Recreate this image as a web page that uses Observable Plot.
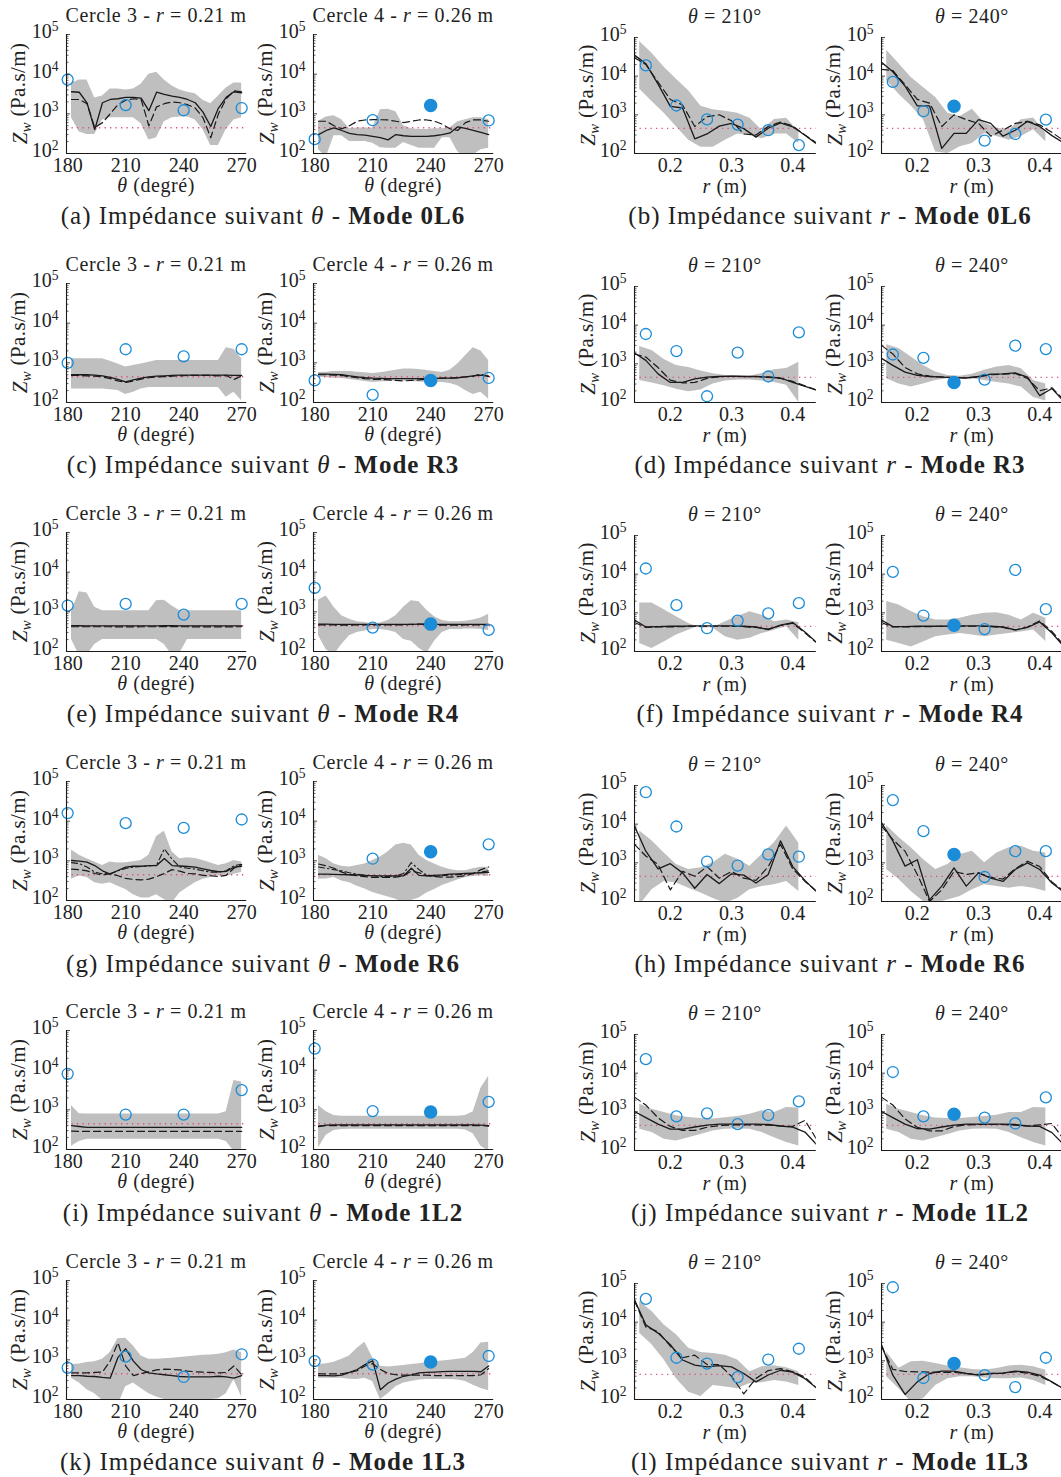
<!DOCTYPE html>
<html><head><meta charset="utf-8">
<script src="https://cdn.jsdelivr.net/npm/d3@7"></script>
<script src="https://cdn.jsdelivr.net/npm/@observablehq/plot@0.6"></script>
<style>
body{margin:0;background:#fff;}
#fig{position:relative;width:1061px;height:1477px;overflow:hidden;font-family:"Liberation Serif",serif;color:#222;}
.cap{position:absolute;font-size:25px;letter-spacing:1px;white-space:nowrap;line-height:1;transform:translateX(-50%);}
.cap b{font-weight:bold;}
</style></head><body><div id="fig"></div><script>
// ---------- shared axes / grids ----------
const THETA_GRID = [182,186,190,194,198,202,206,210,214,218,222,226,230,234,238,242,246,250,254,258,262,266,270];
const R_GRID = [0.1415,0.16,0.18,0.20,0.22,0.24,0.26,0.28,0.30,0.32,0.34,0.36,0.38,0.40,0.42,0.4385];
const R_BAND = [0.15,0.17,0.19,0.21,0.23,0.25,0.27,0.29,0.31,0.33,0.35,0.37,0.39,0.41];
const THETA_SENSORS = [180,210,240,270];
const R_SENSORS = [0.16,0.21,0.26,0.31,0.36,0.41];
const THETA_TICKS = [180,210,240,270];
const R_TICKS = [0.2,0.3,0.4];
const Y_TICKS = [1e2,1e3,1e4,1e5];
const Y_MINOR = [200,300,400,500,600,700,800,900,2000,3000,4000,5000,6000,7000,8000,9000,20000,30000,40000,50000,60000,70000,80000,90000];
const RHO_C = 445;
const CIRCLE_NAMES = ["Cercle 3","Cercle 4"];
const CIRCLE_RADII = ["0.21","0.26"];
const ANGLE_NAMES = ["210","240"];
const THETA_LETTERS = ["a","c","e","g","i","k"];
const R_LETTERS = ["b","d","f","h","j","l"];
const MODES = ["0L6","R3","R4","R6","1L2","1L3"];

// ---------- Mode 0L6 ----------
const a1_hi = [5900,7100,7100,2500,2800,4200,4200,4000,4200,5600,10000,11200,7100,5000,4000,3500,3200,2200,1800,2800,4500,6000,6000];
const a1_lo = [800,350,300,300,700,800,800,800,800,560,220,250,630,800,830,830,700,400,160,160,400,700,800];
const a1_solid = [3600,3500,1900,400,1900,2300,2400,2600,2600,2500,1200,3500,3100,2800,2600,2300,1900,1100,480,1400,2600,3600,3400];
const a1_dash = [2300,2300,1800,450,600,1000,1700,2200,2400,2300,500,1500,1800,2000,1900,1700,1400,800,250,1000,2400,3800,3600];
const a1_circ = [7300,1660,1230,1400];
const a2_hi = [650,830,890,710,420,440,440,440,1260,1300,1120,500,420,400,400,420,420,440,630,710,800,800,710];
const a2_lo = [125,80,280,280,200,200,200,180,140,135,135,190,160,135,135,135,250,250,110,80,90,125,135];
const a2_solid = [300,380,440,380,320,300,290,270,250,220,300,280,270,270,270,280,300,330,470,430,380,340,300];
const a2_dash = [650,650,500,420,500,650,700,710,710,700,650,600,650,700,700,650,550,420,380,600,700,700,650];
const a2_circ = [230,690,1630,680];
const b1_hi = [79000,39000,17000,8300,4200,1660,1350,1230,1100,810,400,760,810,360];
const b1_lo = [4600,2200,1100,490,220,145,145,220,320,295,240,320,320,180];
const b1_solid = [35000,21000,6200,1660,1500,240,320,510,600,440,265,450,620,490,295,180];
const b1_dash = [30000,20000,7000,2500,1800,500,900,1000,700,320,300,500,650,520,300,190];
const b1_circ = [19000,1740,760,560,400,165];
const b2_hi = [47000,21000,9300,5100,2800,1100,900,1400,610,450,410,750,830,330];
const b2_lo = [7600,3400,1700,750,110,100,150,180,330,275,220,275,410,200];
const b2_solid = [23000,13000,5500,1700,1700,135,330,330,750,600,280,400,680,500,290,190];
const b2_dash = [15000,14000,6000,2500,2000,500,1000,750,600,280,400,600,680,550,350,220];
const b2_circ = [7100,1240,1660,215,320,750];

// ---------- Mode R3 ----------
const c1_hi = [1260,1260,1260,1260,1260,1100,930,780,850,930,1030,1140,1140,1140,1140,1140,1140,1140,1140,1140,2400,2200,1260];
const c1_lo = [220,220,220,220,220,210,200,160,180,220,240,240,240,240,240,240,240,240,240,240,135,180,110];
const c1_solid = [500,500,500,490,470,430,380,330,370,410,440,460,470,480,490,490,490,490,490,490,490,480,480];
const c1_dash = [480,480,470,460,440,400,350,320,350,390,420,440,450,460,470,480,480,480,480,470,480,380,470];
const c1_circ = [1000,2200,1450,2200];
const c2_hi = [570,580,600,600,600,580,560,540,560,600,650,700,700,680,640,600,570,650,930,1500,2400,2000,1140];
const c2_lo = [430,420,410,400,380,360,340,320,330,340,350,350,340,330,320,320,320,300,265,200,160,180,120];
const c2_solid = [520,520,510,500,470,440,420,410,405,400,400,400,400,400,400,405,410,410,420,440,470,490,460];
const c2_dash = [500,500,490,480,450,420,400,385,380,370,360,350,360,370,390,400,410,410,420,440,460,520,450];
const c2_circ = [360,155,360,415];
const d1_hi = [2800,2200,1300,900,800,650,550,500,500,480,560,700,760,1100];
const d1_lo = [370,320,270,220,190,210,300,360,380,380,360,330,280,100];
const d1_solid = [1900,1230,550,330,330,410,455,470,480,470,470,450,430,330,260,210];
const d1_dash = [1800,1500,800,380,320,330,420,470,470,470,470,460,420,350,270,210];
const d1_circ = [5900,2140,145,1950,470,6500];
const d2_hi = [3100,2500,1500,910,610,500,480,540,680,830,910,750,370,300];
const d2_lo = [410,300,250,300,370,410,420,410,370,330,300,250,135,110];
const d2_solid = [1380,910,610,500,470,455,440,430,470,540,550,580,450,150,230,110];
const d2_dash = [3000,1800,800,550,480,460,440,430,460,520,540,560,420,200,240,120];
const d2_circ = [1740,1420,330,390,2950,2400];

// ---------- Mode R4 ----------
const e1_hi = [1000,3200,3000,1300,1070,1070,1070,1070,1070,1070,1070,1900,1950,1400,1070,1070,1070,1070,1070,1070,1070,1070,1070];
const e1_lo = [200,80,80,150,200,200,200,200,200,200,200,200,150,80,90,200,200,200,200,200,200,200,200];
const e1_solid = [450,445,440,440,440,440,440,440,440,440,440,440,445,445,440,440,440,440,440,440,440,440,440];
const e1_dash = [420,420,420,420,420,420,415,415,415,420,420,420,425,425,420,420,415,415,415,415,415,420,420];
const e1_circ = [1440,1580,850,1580];
const e2_hi = [2000,2500,1300,800,650,560,540,490,520,600,800,1300,1900,1800,1100,750,600,560,560,580,620,700,870];
const e2_lo = [250,110,80,150,250,300,330,360,360,340,300,200,180,120,90,180,300,360,360,370,370,360,340];
const e2_solid = [490,490,485,480,480,480,480,480,480,480,480,480,485,490,490,485,480,480,480,480,480,480,480];
const e2_dash = [470,470,465,460,460,465,470,470,470,470,470,470,480,490,480,470,460,460,460,465,470,470,470];
const e2_circ = [4000,400,490,350];
const f1_hi = [1800,1800,1200,790,530,400,420,590,800,1070,870,590,650,550];
const f1_lo = [160,120,175,265,355,480,400,240,195,220,290,355,435,195];
const f1_solid = [650,430,440,450,450,460,460,460,460,450,430,370,480,560,320,175];
const f1_dash = [560,420,430,430,440,450,450,450,450,440,420,380,470,540,300,170];
const f1_circ = [14000,1580,400,630,970,1780];
const f2_hi = [1960,1600,1080,790,650,650,720,870,970,1000,870,650,970,720];
const f2_lo = [195,160,130,175,240,265,290,265,240,265,290,320,360,180];
const f2_solid = [650,440,440,450,450,450,460,460,460,450,430,360,420,580,300,140];
const f2_dash = [560,430,430,440,440,445,450,450,450,440,420,360,430,620,330,150];
const f2_circ = [11500,850,480,380,12900,1240];

// ---------- Mode R6 ----------
const g1_hi = [1870,1380,1130,930,760,930,880,900,950,1020,1380,4100,5600,1700,1130,1200,1150,1020,880,760,840,1020,930];
const g1_lo = [345,415,380,280,255,280,230,190,140,115,115,140,105,85,155,210,280,345,380,415,400,460,510];
const g1_solid = [1020,980,930,760,560,460,570,690,730,730,760,760,1150,760,740,720,690,630,570,530,540,690,730];
const g1_dash = [620,600,560,480,440,470,420,360,340,330,345,400,480,600,550,480,470,430,420,400,430,650,800];
const g1_dashdot = [900,850,700,520,470,480,560,640,700,720,740,780,2000,1100,700,650,620,560,520,520,560,750,820];
const g1_circ = [16000,8900,6800,11000];
const g2_hi = [1380,1130,830,730,700,760,830,1020,1250,1690,2500,2760,2500,1380,1020,830,690,600,560,560,630,690,690];
const g2_lo = [345,350,380,310,280,230,195,160,140,122,108,85,100,115,155,190,240,280,330,380,400,420,400];
const g2_solid = [460,460,455,450,445,440,430,415,415,415,415,420,650,430,420,430,440,460,470,480,490,500,510];
const g2_dash = [830,750,650,520,450,420,400,380,380,380,390,420,550,500,420,400,390,390,400,420,480,600,700];
const g2_dashdot = [700,650,600,560,500,460,430,420,400,400,420,480,900,600,430,410,420,440,450,460,480,520,560];
const g2_circ = [null,1130,1700,2600];
const h1_hi = [6700,3700,1800,910,670,750,1000,1660,1230,820,1660,3300,9000,3200];
const h1_lo = [80,200,330,300,220,165,120,90,120,200,245,270,330,180];
const h1_solid = [9000,2000,700,950,550,220,500,290,520,480,300,500,3700,800,350,180];
const h1_dash = [3000,1500,900,200,600,450,800,400,600,400,350,800,3000,700,330,190];
const h1_circ = [67000,8700,1080,850,1650,1440];
const h2_hi = [9100,4500,2450,1220,670,910,1650,2000,1000,1800,2450,2700,2000,1800];
const h2_lo = [670,370,180,100,90,110,135,200,270,245,220,245,220,180];
const h2_solid = [11000,3700,820,1200,110,250,740,250,550,400,330,670,1000,670,300,180];
const h2_dash = [9000,4000,2000,500,100,200,600,500,550,420,380,700,1100,800,320,190];
const h2_circ = [42000,6600,1650,430,2000,2000];

// ---------- Mode 1L2 ----------
const i1_hi = [1290,800,790,790,790,790,790,790,790,790,790,790,790,790,790,790,790,790,790,790,900,5500,5000];
const i1_lo = [120,160,180,180,180,180,180,180,180,180,180,180,180,180,180,180,180,180,180,180,160,90,80];
const i1_solid = [400,380,360,360,360,360,360,360,360,360,360,360,360,360,360,360,360,360,360,360,360,360,360];
const i1_dash = [290,285,285,285,285,285,285,285,285,285,285,285,285,285,285,285,285,285,285,285,285,285,285];
const i1_circ = [8100,760,760,3150];
const i2_hi = [1290,900,720,690,690,690,690,690,690,690,690,690,690,690,690,690,690,690,690,720,900,3500,7000];
const i2_lo = [110,230,300,320,325,325,325,325,325,325,325,325,325,325,325,325,325,325,325,310,250,120,90];
const i2_solid = [380,410,415,415,415,415,415,415,415,415,415,415,415,415,415,415,415,415,415,415,415,410,400];
const i2_dash = [390,400,400,400,400,400,400,400,400,400,400,400,400,400,400,400,400,400,400,400,400,400,390];
const i2_circ = [35000,930,880,1580];
const j1_hi = [1580,1170,960,790,710,670,650,700,760,870,1060,960,1300,1250];
const j1_lo = [355,290,195,175,215,260,320,355,360,355,290,215,160,130];
const j1_solid = [1020,710,480,355,355,405,455,480,480,480,480,470,430,400,300,145];
const j1_dash = [2400,1500,700,420,330,330,400,440,460,460,460,450,430,420,600,200];
const j1_circ = [23000,760,910,480,820,1860];
const j2_hi = [1580,1170,960,790,690,670,670,710,760,820,960,960,1300,1250];
const j2_lo = [355,290,195,175,215,260,320,355,360,355,290,215,160,130];
const j2_solid = [1020,710,480,370,355,405,455,480,480,480,480,470,430,420,290,145];
const j2_dash = [2400,1500,650,400,320,320,420,460,470,470,470,450,430,460,500,200];
const j2_circ = [10700,760,870,710,500,2360];

// ---------- Mode 1L3 ----------
const k1_hi = [760,790,850,900,1030,1520,3400,3500,2240,1250,1030,1030,1060,1100,1150,1200,1250,1300,1330,1380,1500,1780,1500];
const k1_lo = [345,260,175,140,95,70,70,210,260,190,140,115,100,95,92,92,92,95,100,105,140,315,115];
const k1_solid = [400,400,385,380,360,345,1150,1900,930,570,470,440,420,400,380,370,370,370,370,385,370,345,400];
const k1_dash = [470,470,470,480,490,930,2700,700,400,450,500,560,580,570,560,520,500,490,480,470,480,700,420];
const k1_circ = [630,1200,370,1380];
const k2_hi = [760,800,870,1030,1250,1950,2760,1120,690,660,690,720,760,800,850,890,930,980,1030,1100,1520,2640,2760];
const k2_lo = [345,345,345,345,325,320,345,285,100,140,210,260,285,310,320,320,320,320,310,285,230,190,165];
const k2_solid = [400,400,395,410,480,570,760,950,175,260,325,385,420,470,480,490,505,510,510,510,510,500,700];
const k2_dash = [440,440,440,445,480,530,700,800,570,450,420,410,410,410,410,400,400,400,400,400,400,420,600];
const k2_circ = [930,760,880,1250];
const l1_hi = [35000,19000,8500,4700,2100,1650,1550,1400,1050,520,700,750,660,520];
const l1_lo = [5200,2600,1050,345,155,120,230,210,190,260,270,310,285,230];
const l1_solid = [38000,8500,5200,2600,1050,770,700,750,700,470,285,430,570,510,345,200];
const l1_dash = [36000,7500,5700,2400,1200,1400,800,800,400,140,350,560,630,520,380,200];
const l1_circ = [40000,1200,850,380,1080,2050];
const l2_hi = [1700,640,940,980,850,740,660,600,570,630,740,770,700,570];
const l2_lo = [385,190,85,105,230,345,385,385,360,345,345,360,310,230];
const l2_solid = [2600,425,135,285,470,540,540,470,425,470,480,540,510,425,285,190];
const l2_dash = [2400,600,530,520,510,500,500,470,440,470,480,520,480,400,280,190];
const l2_circ = [80000,360,850,425,210,1200];

// ---------- panel table ----------
const PANELS = [
  {kind:"t",row:0,col:0,hi:a1_hi,lo:a1_lo,solid:a1_solid,dash:a1_dash,circ:a1_circ},
  {kind:"t",row:0,col:1,hi:a2_hi,lo:a2_lo,solid:a2_solid,dash:a2_dash,circ:a2_circ},
  {kind:"r",row:0,col:0,hi:b1_hi,lo:b1_lo,solid:b1_solid,dash:b1_dash,circ:b1_circ},
  {kind:"r",row:0,col:1,hi:b2_hi,lo:b2_lo,solid:b2_solid,dash:b2_dash,circ:b2_circ},
  {kind:"t",row:1,col:0,hi:c1_hi,lo:c1_lo,solid:c1_solid,dash:c1_dash,circ:c1_circ},
  {kind:"t",row:1,col:1,hi:c2_hi,lo:c2_lo,solid:c2_solid,dash:c2_dash,circ:c2_circ},
  {kind:"r",row:1,col:0,hi:d1_hi,lo:d1_lo,solid:d1_solid,dash:d1_dash,circ:d1_circ},
  {kind:"r",row:1,col:1,hi:d2_hi,lo:d2_lo,solid:d2_solid,dash:d2_dash,circ:d2_circ},
  {kind:"t",row:2,col:0,hi:e1_hi,lo:e1_lo,solid:e1_solid,dash:e1_dash,circ:e1_circ},
  {kind:"t",row:2,col:1,hi:e2_hi,lo:e2_lo,solid:e2_solid,dash:e2_dash,circ:e2_circ},
  {kind:"r",row:2,col:0,hi:f1_hi,lo:f1_lo,solid:f1_solid,dash:f1_dash,circ:f1_circ},
  {kind:"r",row:2,col:1,hi:f2_hi,lo:f2_lo,solid:f2_solid,dash:f2_dash,circ:f2_circ},
  {kind:"t",row:3,col:0,hi:g1_hi,lo:g1_lo,solid:g1_solid,dash:g1_dash,dashdot:g1_dashdot,circ:g1_circ},
  {kind:"t",row:3,col:1,hi:g2_hi,lo:g2_lo,solid:g2_solid,dash:g2_dash,dashdot:g2_dashdot,circ:g2_circ},
  {kind:"r",row:3,col:0,hi:h1_hi,lo:h1_lo,solid:h1_solid,dash:h1_dash,circ:h1_circ},
  {kind:"r",row:3,col:1,hi:h2_hi,lo:h2_lo,solid:h2_solid,dash:h2_dash,circ:h2_circ},
  {kind:"t",row:4,col:0,hi:i1_hi,lo:i1_lo,solid:i1_solid,dash:i1_dash,circ:i1_circ},
  {kind:"t",row:4,col:1,hi:i2_hi,lo:i2_lo,solid:i2_solid,dash:i2_dash,circ:i2_circ},
  {kind:"r",row:4,col:0,hi:j1_hi,lo:j1_lo,solid:j1_solid,dash:j1_dash,circ:j1_circ},
  {kind:"r",row:4,col:1,hi:j2_hi,lo:j2_lo,solid:j2_solid,dash:j2_dash,circ:j2_circ},
  {kind:"t",row:5,col:0,hi:k1_hi,lo:k1_lo,solid:k1_solid,dash:k1_dash,circ:k1_circ},
  {kind:"t",row:5,col:1,hi:k2_hi,lo:k2_lo,solid:k2_solid,dash:k2_dash,circ:k2_circ},
  {kind:"r",row:5,col:0,hi:l1_hi,lo:l1_lo,solid:l1_solid,dash:l1_dash,circ:l1_circ},
  {kind:"r",row:5,col:1,hi:l2_hi,lo:l2_lo,solid:l2_solid,dash:l2_dash,circ:l2_circ}
];

// ---------- drawing ----------
const ROW_PITCH = 249.2;
const BLUE = "#1a8cd8", GRAY = "#bfbfbf", PINK = "#e0507e", INK = "#1a1a1a", TXT = "#222";
const fig = document.getElementById("fig");
const SVGNS = "http://www.w3.org/2000/svg";

function addText(svg, x, y, parts, opts = {}) {
  const t = d3.select(svg).append("text")
    .attr("x", x).attr("y", y)
    .attr("text-anchor", opts.anchor || "middle")
    .attr("font-size", opts.size || 21)
    .attr("fill", TXT)
    .attr("letter-spacing", opts.ls || 0);
  if (opts.rotate) t.attr("transform", `rotate(-90 ${x} ${y})`);
  for (const p of parts) {
    const s = t.append("tspan").text(p.t);
    if (p.i) s.attr("font-style", "italic");
    if (p.sub) s.attr("font-size", "0.7em").attr("dy", "0.3em");
    if (p.unsub) s.attr("dy", "-0.3em");
  }
}

function drawPanel(p) {
  const isT = p.kind === "t";
  const pw = isT ? 180.2 : 181.8;
  const x0 = isT ? (p.col === 0 ? 65.5 : 312.5) : (p.col === 0 ? 634 : 881);
  const y0 = (isT ? 33.5 : 37) + ROW_PITCH * p.row;
  const y1 = (isT ? 152.5 : 153) + ROW_PITCH * p.row;
  const ph = y1 - y0;
  const ML = 58, MR = 6, MT = 30, MB = 46;
  const xdom = isT ? [179.4, 272.6] : [0.1415, 0.4385];
  const xg = isT ? THETA_GRID : R_GRID;
  const xb = isT ? THETA_GRID : R_BAND;
  const xs = isT ? THETA_SENSORS : R_SENSORS;
  const filledIdx = p.col === 1 ? 2 : -1;
  const band = xb.map((x, i) => ({x, lo: p.lo[i], hi: p.hi[i]}));
  const line = arr => xg.map((x, i) => ({x, y: arr[i]}));
  const pts = xs.map((x, i) => ({x, y: p.circ[i], f: i === filledIdx})).filter(d => d.y != null);
  const span = xdom[1] - xdom[0];
  const tickLen = span * 2.5 / pw;
  const majLen = span * 4 / pw;
  const marks = [
    Plot.areaY(band, {x: "x", y1: "lo", y2: "hi", fill: GRAY, clip: true}),
    Plot.ruleY([RHO_C], {stroke: PINK, strokeWidth: 1.4, strokeDasharray: "1.3,4.2"}),
    Plot.line(line(p.solid), {x: "x", y: "y", stroke: INK, strokeWidth: 1.3, clip: true}),
    Plot.line(line(p.dash), {x: "x", y: "y", stroke: INK, strokeWidth: 1.2, strokeDasharray: "7,4", clip: true})
  ];
  if (p.dashdot) marks.push(Plot.line(line(p.dashdot), {x: "x", y: "y", stroke: INK, strokeWidth: 1.1, strokeDasharray: "6,3,1.5,3", clip: true}));
  marks.push(
    Plot.dot(pts.filter(d => !d.f), {x: "x", y: "y", r: 5.5, stroke: BLUE, strokeWidth: 1.3, fill: "none"}),
    Plot.dot(pts.filter(d => d.f), {x: "x", y: "y", r: 6, fill: BLUE, stroke: BLUE}),
    Plot.ruleY(Y_MINOR, {y: d => d, x1: () => xdom[0], x2: () => xdom[0] + tickLen, stroke: INK, strokeWidth: 0.7}),
    Plot.ruleY(Y_TICKS, {y: d => d, x1: () => xdom[0], x2: () => xdom[0] + majLen, stroke: INK, strokeWidth: 0.8}),
    Plot.ruleX([xdom[0]], {stroke: INK, strokeWidth: 1.1}),
    Plot.ruleY([100], {stroke: INK, strokeWidth: 1.1})
  );
  const svg = Plot.plot({
    width: ML + pw + MR, height: MT + ph + MB,
    marginLeft: ML, marginRight: MR, marginTop: MT, marginBottom: MB,
    style: {fontFamily: "Liberation Serif", fontSize: "20px", color: TXT, background: "transparent", overflow: "visible"},
    x: {domain: xdom, ticks: isT ? THETA_TICKS : R_TICKS, tickFormat: d => isT ? String(d) : d.toFixed(1), tickSize: 0, tickPadding: 4, label: null},
    y: {type: "log", domain: [100, 1e5], ticks: Y_TICKS, tickFormat: d => "10^" + Math.round(Math.log10(d)), tickSize: 0, tickPadding: 8, label: null},
    marks
  });
  svg.querySelectorAll("text").forEach(t => {
    const m = /^10\^(\d)$/.exec(t.textContent);
    if (!m) return;
    t.textContent = "10";
    t.setAttribute("dy", "-0.14em");
    const s = document.createElementNS(SVGNS, "tspan");
    s.setAttribute("dy", "-0.5em"); s.setAttribute("font-size", "0.68em");
    s.textContent = m[1];
    t.appendChild(s);
  });
  const cx = ML + pw / 2;
  // title
  if (isT) addText(svg, cx, MT - 11.5, [{t: CIRCLE_NAMES[p.col] + " - "}, {t: "r", i: 1}, {t: " = " + CIRCLE_RADII[p.col] + " m"}], {size: 20, ls: 0.6});
  else addText(svg, cx, MT - 14, [{t: "θ", i: 1}, {t: " = " + ANGLE_NAMES[p.col] + "°"}], {size: 20, ls: 0.6});
  // x label
  if (isT) addText(svg, cx, MT + ph + 39, [{t: "θ", i: 1}, {t: " (degré)"}], {size: 20, ls: 0.6});
  else addText(svg, cx, MT + ph + 40, [{t: "r", i: 1}, {t: " (m)"}], {size: 20, ls: 0.6});
  // y label
  addText(svg, ML - 39, MT + ph / 2, [{t: "Z", i: 1}, {t: "w", i: 1, sub: 1}, {t: " (Pa.s/m)", unsub: 1}], {size: 21, rotate: 1, ls: 0.4});
  svg.style.position = "absolute";
  svg.style.left = (x0 - ML) + "px";
  svg.style.top = (y0 - MT) + "px";
  svg.style.maxWidth = "none";
  fig.appendChild(svg);
}

PANELS.forEach(drawPanel);

// captions
MODES.forEach((mode, k) => {
  const base = 224 + ROW_PITCH * k;
  [[THETA_LETTERS[k], "θ", 263], [R_LETTERS[k], "r", 830]].forEach(([letter, sym, cx]) => {
    const d = document.createElement("div");
    d.className = "cap";
    d.style.left = cx + "px";
    d.style.top = (base - 21) + "px";
    d.innerHTML = `(${letter}) Impédance suivant <i>${sym}</i> - <b>Mode ${mode}</b>`;
    fig.appendChild(d);
  });
});
</script></body></html>
